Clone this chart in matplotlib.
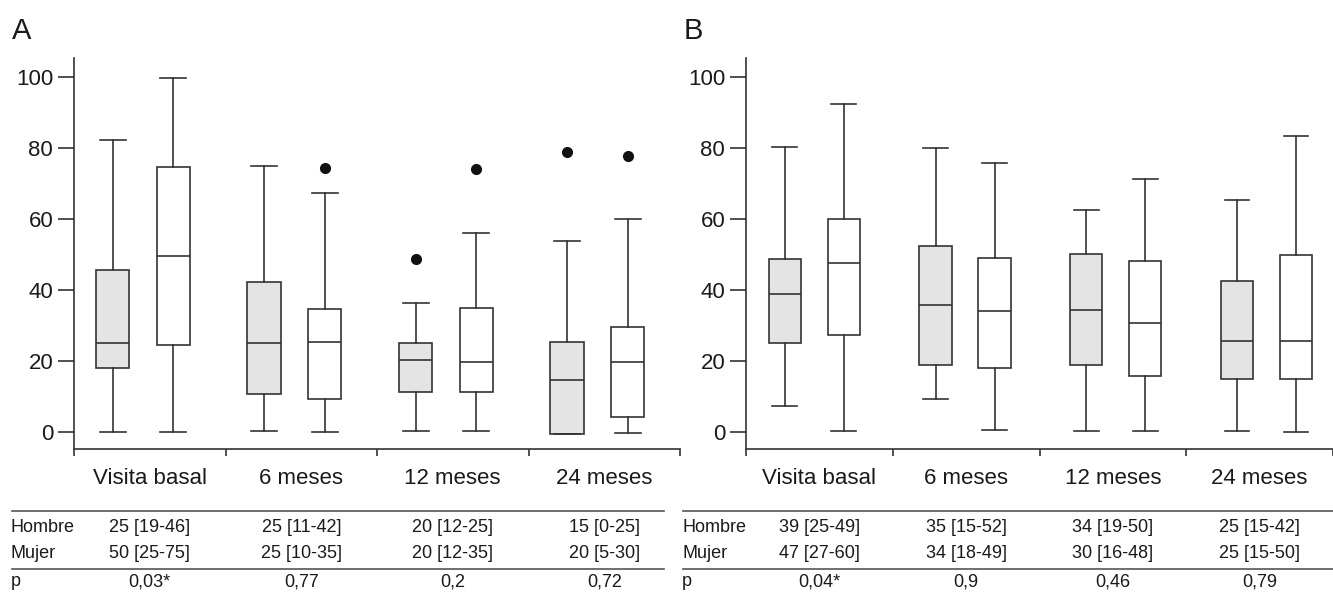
import matplotlib
matplotlib.use("Agg")
import matplotlib.pyplot as plt
from matplotlib.lines import Line2D
from matplotlib.transforms import blended_transform_factory

plt.rcParams['font.family'] = ['Liberation Sans', 'DejaVu Sans']

cats = ['Visita basal', '6 meses', '12 meses', '24 meses']

# panel A - Hombre (gris) / Mujer (blanco)
A_h_med = [25, 25, 20.3, 14.6]
A_h_q1 = [18.1, 10.7, 11.2, -0.5]
A_h_q3 = [45.6, 42.3, 25.2, 25.4]
A_h_lo = [0.1, 0.3, 0.4, -0.5]
A_h_hi = [82.3, 75.0, 36.4, 53.9]
A_h_out = [[], [], [48.8], [78.8]]

A_m_med = [49.7, 25.3, 19.8, 19.7]
A_m_q1 = [24.5, 9.3, 11.2, 4.3]
A_m_q3 = [74.7, 34.6, 35.0, 29.7]
A_m_lo = [0.0, 0.0, 0.3, -0.2]
A_m_hi = [99.8, 67.4, 56.0, 60.0]
A_m_out = [[], [74.3], [74.2], [77.9]]

# panel B
B_h_med = [38.8, 35.7, 34.3, 25.7]
B_h_q1 = [25.2, 18.9, 18.9, 14.9]
B_h_q3 = [48.8, 52.4, 50.1, 42.5]
B_h_lo = [7.3, 9.4, 0.4, 0.4]
B_h_hi = [80.3, 80.0, 62.5, 65.5]
B_h_out = [[], [], [], []]

B_m_med = [47.6, 34.1, 30.8, 25.5]
B_m_q1 = [27.2, 17.9, 15.9, 14.9]
B_m_q3 = [60.1, 49.1, 48.2, 50.0]
B_m_lo = [0.3, 0.5, 0.4, 0.0]
B_m_hi = [92.3, 75.7, 71.3, 83.5]
B_m_out = [[], [], [], []]

# tabla
A_hombre = ['25 [19-46]', '25 [11-42]', '20 [12-25]', '15 [0-25]']
A_mujer = ['50 [25-75]', '25 [10-35]', '20 [12-35]', '20 [5-30]']
A_p = ['0,03*', '0,77', '0,2', '0,72']
B_hombre = ['39 [25-49]', '35 [15-52]', '34 [19-50]', '25 [15-42]']
B_mujer = ['47 [27-60]', '34 [18-49]', '30 [16-48]', '25 [15-50]']
B_p = ['0,04*', '0,9', '0,46', '0,79']

W, H = 1333, 596
LC = '#333333'
TC = '#1a1a1a'


def stats(med, q1, q3, lo, hi, out):
    return [dict(med=med[i], q1=q1[i], q3=q3[i], whislo=lo[i], whishi=hi[i],
                 fliers=out[i]) for i in range(len(med))]


def fy(px):
    return 1 - px / H


def panel(fig, left_px, right_px, letter, hs, ms, offs, step, rows, tab_x):
    ax = fig.add_axes([left_px / W, fy(449), (right_px - left_px) / W, (449 - 58) / H])
    n = len(cats)
    common = dict(widths=0.22, capwidths=0.17, patch_artist=True, manage_ticks=False,
                  whiskerprops=dict(color=LC, lw=1.2),
                  capprops=dict(color=LC, lw=1.2),
                  medianprops=dict(color=LC, lw=1.2),
                  flierprops=dict(marker='o', markerfacecolor='#111111',
                                  markeredgecolor='#111111', markersize=7))
    ax.bxp(hs, positions=[i * step + offs[0] for i in range(n)],
           boxprops=dict(facecolor='#e4e4e4', edgecolor=LC, lw=1.2), **common)
    ax.bxp(ms, positions=[i * step + offs[1] for i in range(n)],
           boxprops=dict(facecolor='white', edgecolor=LC, lw=1.2), **common)

    ax.set_xlim(-0.5, n - 0.5)
    ax.set_ylim(-4.8, 105.4)
    ax.spines['top'].set_visible(False)
    ax.spines['right'].set_visible(False)
    for s in ['left', 'bottom']:
        ax.spines[s].set_color(LC)
        ax.spines[s].set_linewidth(1.2)

    ax.set_yticks([0, 20, 40, 60, 80, 100])
    ax.tick_params(axis='y', length=11.5, width=1.2, color=LC, pad=3.5,
                   labelsize=16, labelcolor=TC)
    ax.set_xticks([i - 0.5 for i in range(n + 1)])
    ax.set_xticklabels([])
    ax.tick_params(axis='x', which='major', length=5, width=1.2, color=LC)
    ax.set_xticks(range(n), minor=True)
    ax.set_xticklabels(cats, minor=True)
    ax.tick_params(axis='x', which='minor', length=0, pad=13.5, labelsize=16,
                   labelcolor=TC)

    fig.text((left_px - 62) / W, fy(31), letter, fontsize=21, color=TC, va='center')

    # tabla debajo
    x0 = tab_x[0] / W
    x1 = tab_x[1] / W
    for ypx in [510.5, 569]:
        fig.add_artist(Line2D([x0, x1], [fy(ypx), fy(ypx)], color='#555555', lw=1.2))
    tr = blended_transform_factory(ax.transData, fig.transFigure)
    names = ['Hombre', 'Mujer', 'p']
    ys = [527, 553, 582]
    for r in range(3):
        fig.text(x0 - 1 / W, fy(ys[r]), names[r], fontsize=13, color=TC, va='center')
        for i in range(n):
            ax.text(i, fy(ys[r]), rows[r][i], transform=tr, fontsize=13, color=TC,
                    ha='center', va='center', clip_on=False)
    return ax


fig = plt.figure(figsize=(W / 100, H / 100), dpi=100)
fig.set_facecolor('white')

panel(fig, 74, 680, 'A',
      stats(A_h_med, A_h_q1, A_h_q3, A_h_lo, A_h_hi, A_h_out),
      stats(A_m_med, A_m_q1, A_m_q3, A_m_lo, A_m_hi, A_m_out),
      (-0.245, 0.155), 1.0, [A_hombre, A_mujer, A_p], (12, 664))
panel(fig, 746, 1333, 'B',
      stats(B_h_med, B_h_q1, B_h_q3, B_h_lo, B_h_hi, B_h_out),
      stats(B_m_med, B_m_q1, B_m_q3, B_m_lo, B_m_hi, B_m_out),
      (-0.235, 0.167), 1.027, [B_hombre, B_mujer, B_p], (683, 1333))

fig.savefig('out.png', dpi=100)
